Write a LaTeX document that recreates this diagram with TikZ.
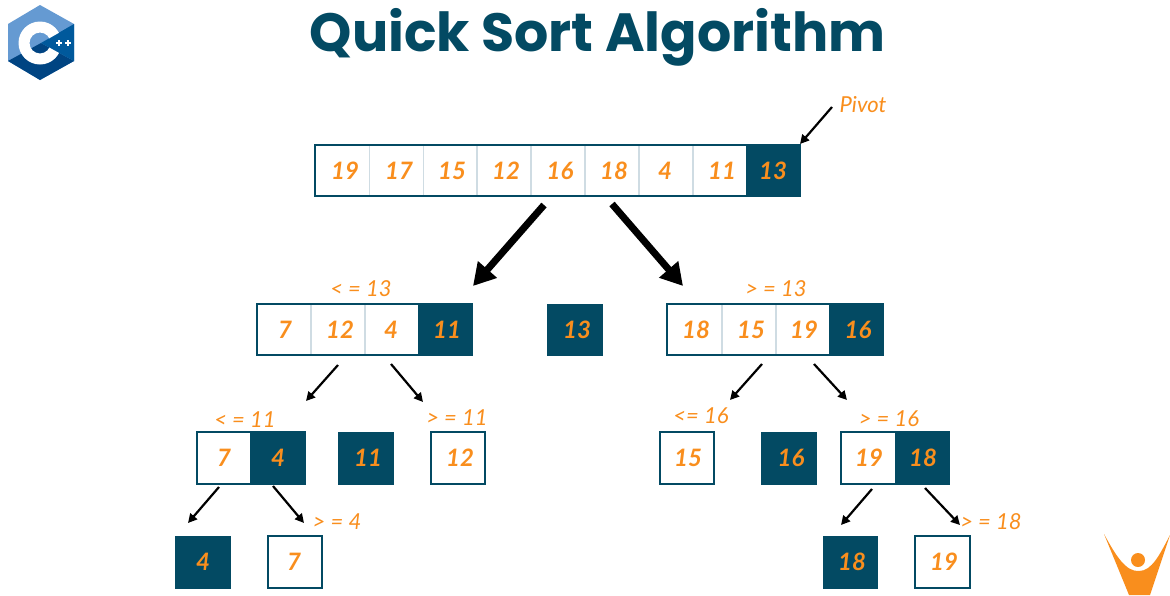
\documentclass[tikz,border=0pt]{standalone}
\usepackage{fontspec}
\setmainfont{Lato}
\newfontfamily\titlefont{Poppins}
\usetikzlibrary{arrows.meta}
\definecolor{teal}{HTML}{034A63}
\definecolor{cellline}{HTML}{CFDCE3}
\definecolor{orng}{HTML}{F98E1D}
\definecolor{hexlight}{HTML}{659AD2}
\definecolor{hexmid}{HTML}{00599C}
\definecolor{hexdark}{HTML}{004482}
\tikzset{
  x=1pt,y=-1pt,
  num/.style={text=orng,font=\fontsize{24}{24}\bfseries\itshape\selectfont,inner sep=0pt},
  lab/.style={text=orng,font=\fontsize{22}{22}\itshape\selectfont,inner sep=0pt},
  frame/.style={draw=teal,line width=2.2pt,fill=white},
  cellsep/.style={draw=cellline,line width=1.6pt},
  pivotbox/.style={fill=teal,draw=teal,line width=0.6pt},
  fat/.style={line width=7pt,-{Triangle[length=22pt,width=24pt]}},
  thin/.style={line width=2.2pt,-{Triangle[length=9pt,width=9pt]}},
}
\newcommand{\boxat}[5]{% name, x1, y1, x2, y2
  \path[frame] (#2,#3) rectangle (#4,#5);
  \coordinate (#1) at ({(#2+#4)/2},{(#3+#5)/2});}
\newcommand{\pivat}[5]{%
  \path[pivotbox] (#2,#3) rectangle (#4,#5);
  \coordinate (#1) at ({(#2+#4)/2},{(#3+#5)/2});}
\begin{document}
\begin{tikzpicture}
\useasboundingbox (0,0) rectangle (1170,595);
\fill[white] (0,0) rectangle (1170,595);

% C++ logo
\fill[hexlight] (40,5) -- (74,24) -- (74,61) -- (40,80) -- (8,61) -- (8,24) -- cycle;
\fill[hexdark] (8,61) -- (40,80) -- (74,61) -- (41,43) -- cycle;
\fill[hexmid] (74,24) -- (74,61) -- (41,43) -- cycle;
\begin{scope}
\clip (41,43) -- (90,15) -- (90,-20) -- (-10,-20) -- (-10,110) -- (90,110) -- (90,70) -- cycle;
\fill[white,even odd rule] (40,43) circle[radius=21.5] (40,43) circle[radius=10.5];
\end{scope}
\fill[white] (56,42) rectangle (62,44); \fill[white] (58,40) rectangle (60,46);
\fill[white] (65,42) rectangle (71,44); \fill[white] (67,40) rectangle (69,46);

% figure logo
\fill[orng] (1104,534) .. controls (1116,556) and (1126,572) .. (1139,571)
  .. controls (1152,571) and (1160,554) .. (1170,535)
  -- (1150,595) -- (1129,595) -- cycle;
\fill[orng] (1138,560) circle[radius=7];

% title
\node[text=teal,font=\titlefont\bfseries\fontsize{53.8}{54}\selectfont,inner sep=0pt] (title) at (597.5,37) {Quick Sort Algorithm};

% top row
\boxat{toprow}{315}{145}{800}{196}
\foreach \x in {369.5,423.5,477,531,585,639,693}
  \draw[cellsep] (\x,146) -- (\x,195);
\pivat{p0}{746}{145}{800}{196}
\foreach \x/\t in {345/19,399/17,452/15,506/12,560/16,614/18,665/4,722/11,773/13}
  \node[num] at (\x,171) {\t};
\node[lab] (pivot) at (863,105) {Pivot};
\coordinate (pivA) at (832,107);
\coordinate (pivB) at (800,144);
\draw[thin] (pivA) -- (pivB);

% level 2
\boxat{l}{257}{304}{472}{355}
\foreach \x in {311,365}
  \draw[cellsep] (\x,305) -- (\x,354);
\pivat{p1}{418}{304}{472}{355}
\foreach \x/\t in {285/7,340/12,391/4,447/11}
  \node[num] at (\x,330) {\t};
\node[lab] at (361,289) {< = 13};
\pivat{p2}{547}{304}{602}{355}
\node[num] at (577,330) {13};
\boxat{r}{667}{304}{883}{355}
\foreach \x in {722,776}
  \draw[cellsep] (\x,305) -- (\x,354);
\pivat{p3}{829}{304}{883}{355}
\foreach \x/\t in {696/18,751/15,804/19,858/16}
  \node[num] at (\x,330) {\t};
\node[lab] at (776,289) {> = 13};

% level 3
\boxat{ll}{197}{432}{305}{484}
\pivat{p4}{250}{432}{305}{484}
\node[num] at (224,458) {7};
\node[num] at (278,458) {4};
\node[lab] at (245,420) {< = 11};
\pivat{p5}{338}{432}{393}{484}
\node[num] at (368,458) {11};
\boxat{lr}{431}{432}{485}{484}
\node[num] at (460,458) {12};
\node[lab] at (457,418) {> = 11};
\boxat{rl}{660}{432}{714}{484}
\node[num] at (688,458) {15};
\node[lab] at (701,416) {<= 16};
\pivat{p6}{761}{432}{816}{484}
\node[num] at (791,458) {16};
\boxat{rr}{841}{432}{949}{484}
\pivat{p7}{895}{432}{949}{484}
\node[num] at (869,458) {19};
\node[num] at (923,458) {18};
\node[lab] at (889,419) {> = 16};

% level 4
\pivat{p8}{175}{536}{230}{588}
\node[num] at (203,562) {4};
\boxat{a7}{268}{536}{322}{588}
\node[num] at (294,562) {7};
\node[lab] at (337,522) {> = 4};
\pivat{p9}{823}{536}{877}{588}
\node[num] at (852,562) {18};
\boxat{a19}{915}{536}{970}{588}
\node[num] at (944,562) {19};
\node[lab] at (991,522) {> = 18};

% arrows
\coordinate (a1) at (544,205); \coordinate (b1) at (473,286);
\coordinate (a2) at (612,204); \coordinate (b2) at (683,286);
\draw[fat] (a1) -- (b1);
\draw[fat] (a2) -- (b2);
\coordinate (a3) at (338,365); \coordinate (b3) at (306,401);
\coordinate (a4) at (391,364); \coordinate (b4) at (423,402);
\coordinate (a5) at (762,364); \coordinate (b5) at (730,400);
\coordinate (a6) at (814,364); \coordinate (b6) at (847,400);
\coordinate (a7s) at (219,487); \coordinate (b7) at (188,523);
\coordinate (a8) at (273,486); \coordinate (b8) at (304,523);
\coordinate (a9) at (872,489); \coordinate (b9) at (841,525);
\coordinate (a10) at (925,488); \coordinate (b10) at (960,525);
\foreach \u/\v in {a3/b3,a4/b4,a5/b5,a6/b6,a7s/b7,a8/b8,a9/b9,a10/b10}
  \draw[thin] (\u) -- (\v);
\end{tikzpicture}
\end{document}
